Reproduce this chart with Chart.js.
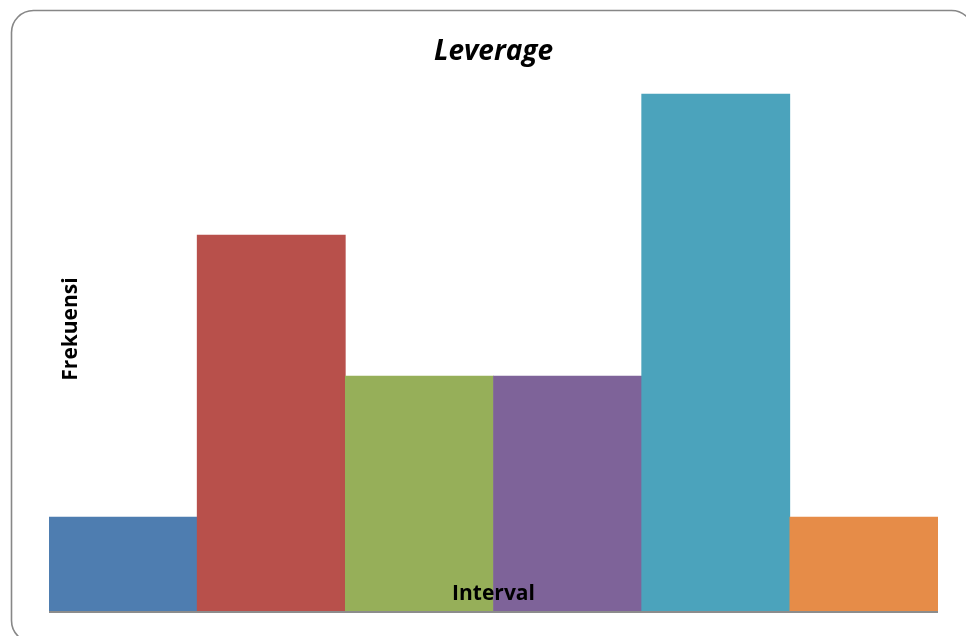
<!DOCTYPE html>
<html>
<head>
<meta charset="utf-8">
<script src="https://cdn.jsdelivr.net/npm/chart.js@4.4.1/dist/chart.umd.min.js"></script>
<style>
html,body{margin:0;padding:0;background:#fff;overflow:hidden;}
#wrap{width:966px;height:636px;position:relative;}
</style>
</head>
<body>
<div id="wrap"><canvas id="c" width="966" height="636"></canvas></div>
<script>
const categories = ["1", "2", "3", "4", "5", "6"];
const frequencies = [2, 8, 5, 5, 11, 2];
const barColors = ["#4E7DB0", "#B8504B", "#96AF59", "#7E6399", "#4BA3BC", "#E68C48"];
const chartTitle = "Leverage";
const yTitle = "Frekuensi";
const xTitle = "Interval";

const decor = {
  id: 'decor',
  beforeDraw(chart) {
    const ctx = chart.ctx;
    ctx.save();
    ctx.fillStyle = '#fff';
    ctx.fillRect(0, 0, chart.width, chart.height);
    // rounded outer border (extends past the right and bottom edges)
    const x = 11.5, y = 10.5, w = 962, h = 632, r = 22;
    ctx.beginPath();
    ctx.moveTo(x + r, y);
    ctx.lineTo(x + w - r, y);
    ctx.arcTo(x + w, y, x + w, y + r, r);
    ctx.lineTo(x + w, y + h - r);
    ctx.arcTo(x + w, y + h, x + w - r, y + h, r);
    ctx.lineTo(x + r, y + h);
    ctx.arcTo(x, y + h, x, y + h - r, r);
    ctx.lineTo(x, y + r);
    ctx.arcTo(x, y, x + r, y, r);
    ctx.closePath();
    ctx.strokeStyle = '#878787';
    ctx.lineWidth = 1.6;
    ctx.stroke();
    ctx.restore();
  },
  afterDatasetsDraw(chart) {
    const ctx = chart.ctx;
    const a = chart.chartArea;
    ctx.save();
    // baseline axis
    ctx.strokeStyle = '#8C8C8C';
    ctx.lineWidth = 2;
    ctx.beginPath();
    ctx.moveTo(a.left, a.bottom + 1);
    ctx.lineTo(a.right, a.bottom + 1);
    ctx.stroke();
    ctx.fillStyle = '#000';
    ctx.textAlign = 'center';
    ctx.textBaseline = 'alphabetic';
    // title
    ctx.font = 'italic bold 28px "Open Sans"';
    ctx.fillText(chartTitle, (a.left + a.right) / 2, 60);
    // x title
    ctx.font = 'bold 21px "Open Sans"';
    ctx.fillText(xTitle, (a.left + a.right) / 2, 600);
    // y title
    ctx.translate(77, (a.top + a.bottom) / 2);
    ctx.rotate(-Math.PI / 2);
    ctx.fillText(yTitle, 0, 0);
    ctx.restore();
  }
};

new Chart(document.getElementById('c'), {
  type: 'bar',
  data: {
    labels: categories,
    datasets: [{
      data: frequencies,
      backgroundColor: barColors,
      borderWidth: 0,
      barPercentage: 1.0,
      categoryPercentage: 1.0
    }]
  },
  options: {
    responsive: false,
    animation: false,
    layout: { padding: { left: 49, right: 28, top: 47, bottom: 25 } },
    plugins: { legend: { display: false }, tooltip: { enabled: false }, title: { display: false } },
    scales: {
      x: { display: false },
      y: { display: false, min: 0, max: 12 }
    }
  },
  plugins: [decor]
});
</script>
</body>
</html>
